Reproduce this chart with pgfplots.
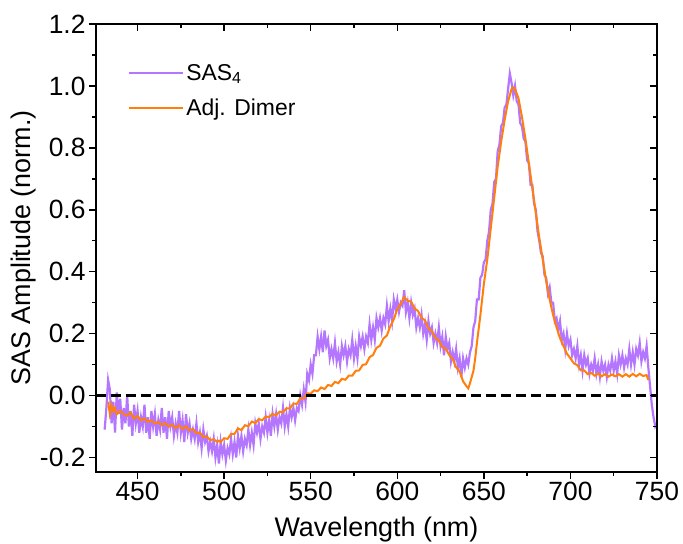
\documentclass[border=0pt]{standalone}
\usepackage{pgfplots}
\pgfplotsset{compat=1.18}
\usepackage{fontspec}
\setmainfont{Liberation Sans}
\definecolor{sas}{RGB}{181,118,255}
\definecolor{dimer}{RGB}{255,127,10}
\begin{document}
\begin{tikzpicture}
\useasboundingbox (-96bp,-72bp) rectangle (587bp,472bp);
\begin{axis}[
  at={(0,0)}, anchor=south west,
  scale only axis, width=561bp, height=448bp,
  xmin=426, xmax=750, ymin=-0.247, ymax=1.2,
  xtick={450,500,550,600,650,700,750},
  ytick={-0.2,0,0.2,0.4,0.6,0.8,1.0,1.2},
  minor x tick num=1, minor y tick num=1,
  tick align=outside, xtick pos=left, ytick pos=left,
  major tick length=7bp, minor tick length=4bp,
  axis line style={line width=1.5bp},
  every tick/.style={line width=1.5bp, black},
  /pgf/number format/assume math mode=true,
  tick label style={font=\fontsize{26.5}{30}\selectfont},
  yticklabel style={/pgf/number format/fixed, /pgf/number format/fixed zerofill, /pgf/number format/precision=1},
  xticklabel style={/pgf/number format/fixed, /pgf/number format/1000 sep={}},
  xlabel={Wavelength (nm)},
  ylabel={SAS Amplitude (norm.)},
  every axis x label/.style={at={(axis description cs:0.5,-0.145)}, anchor=base, font=\fontsize{27}{31}\selectfont},
  every axis y label/.style={at={(axis description cs:-0.13,0.5)}, anchor=center, rotate=90, font=\fontsize{27}{31}\selectfont},
  legend style={at={(axis description cs:0.057,0.915)}, anchor=north west, draw=none, fill=none,
    font=\fontsize{23}{27}\selectfont, row sep=13bp, inner sep=0pt},
  legend image code/.code={\draw[#1] (0bp,0bp) -- (54bp,0bp);},
  legend cell align=left,
]
\addplot[sas, line width=2.2bp] coordinates {
(431,-0.11) (432,-0.04) (433,0.05) (434,0.02) (435,-0.09) (436,-0.02) (437,-0.12) (438,0.01) (439,-0.06) (440,-0.01)
(441,-0.11) (442,-0.04) (443,-0.09) (444,0.0) (445,-0.10) (446,-0.05) (447,-0.13) (448,-0.03) (449,-0.09) (450,-0.05)
(451,-0.12) (452,-0.07) (453,-0.10) (454,-0.03) (455,-0.12) (456,-0.07) (457,-0.14) (458,-0.05) (459,-0.10) (460,-0.06)
(461,-0.13) (462,-0.08) (463,-0.11) (464,-0.04) (465,-0.12) (466,-0.07) (467,-0.14) (468,-0.05) (469,-0.10) (470,-0.07)
(471,-0.13) (472,-0.09) (473,-0.12) (474,-0.05) (475,-0.12) (476,-0.08) (477,-0.15) (478,-0.06) (479,-0.12) (480,-0.09)
(481,-0.14) (482,-0.11) (483,-0.14) (484,-0.09) (485,-0.15) (486,-0.12) (487,-0.17) (488,-0.11) (489,-0.15) (490,-0.13)
(491,-0.18) (492,-0.15) (493,-0.18) (494,-0.14) (495,-0.20) (496,-0.16) (497,-0.22) (498,-0.15) (499,-0.19) (500,-0.16)
(501,-0.21) (502,-0.17) (503,-0.19) (504,-0.14) (505,-0.19) (506,-0.15) (507,-0.20) (508,-0.13) (509,-0.17) (510,-0.13)
(511,-0.18) (512,-0.14) (513,-0.16) (514,-0.11) (515,-0.16) (516,-0.12) (517,-0.16) (518,-0.09) (519,-0.12) (520,-0.09)
(521,-0.14) (522,-0.10) (523,-0.12) (524,-0.07) (525,-0.12) (526,-0.08) (527,-0.13) (528,-0.06) (529,-0.10) (530,-0.06)
(531,-0.11) (532,-0.07) (533,-0.09) (534,-0.04) (535,-0.10) (536,-0.06) (537,-0.10) (538,-0.04) (539,-0.07) (540,-0.04)
(541,-0.08) (542,-0.04) (543,-0.05) (544,0.0) (545,-0.03) (546,0.02) (547,-0.02) (548,0.07) (549,0.05) (550,0.10)
(551,0.07) (552,0.13) (553,0.13) (554,0.19) (555,0.15) (556,0.19) (557,0.14) (558,0.21) (559,0.16) (560,0.18)
(561,0.12) (562,0.15) (563,0.12) (564,0.17) (565,0.11) (566,0.14) (567,0.10) (568,0.16) (569,0.13) (570,0.16)
(571,0.11) (572,0.15) (573,0.13) (574,0.18) (575,0.12) (576,0.16) (577,0.12) (578,0.19) (579,0.16) (580,0.19)
(581,0.15) (582,0.19) (583,0.17) (584,0.23) (585,0.18) (586,0.22) (587,0.18) (588,0.25) (589,0.22) (590,0.25)
(591,0.21) (592,0.25) (593,0.23) (594,0.29) (595,0.24) (596,0.28) (597,0.24) (598,0.31) (599,0.28) (600,0.31)
(601,0.27) (602,0.30) (603,0.29) (604,0.34) (605,0.27) (606,0.30) (607,0.25) (608,0.30) (609,0.26) (610,0.28)
(611,0.22) (612,0.25) (613,0.22) (614,0.26) (615,0.20) (616,0.23) (617,0.18) (618,0.24) (619,0.20) (620,0.22)
(621,0.17) (622,0.20) (623,0.17) (624,0.22) (625,0.16) (626,0.19) (627,0.13) (628,0.19) (629,0.15) (630,0.17)
(631,0.11) (632,0.14) (633,0.11) (634,0.15) (635,0.09) (636,0.12) (637,0.06) (638,0.12) (639,0.09) (640,0.12)
(641,0.10) (642,0.14) (643,0.16) (644,0.22) (645,0.24) (646,0.31) (647,0.31) (648,0.38) (649,0.39) (650,0.43)
(651,0.44) (652,0.50) (653,0.53) (654,0.60) (655,0.62) (656,0.69) (657,0.70) (658,0.79) (659,0.81) (660,0.87)
(661,0.88) (662,0.93) (663,0.94) (664,0.99) (665,1.04) (666,1.01) (667,0.97) (668,1.00) (669,0.95) (670,0.94)
(671,0.88) (672,0.87) (673,0.83) (674,0.82) (675,0.76) (676,0.75) (677,0.68) (678,0.68) (679,0.62) (680,0.60)
(681,0.53) (682,0.50) (683,0.46) (684,0.45) (685,0.39) (686,0.38) (687,0.33) (688,0.35) (689,0.30) (690,0.30)
(691,0.24) (692,0.25) (693,0.21) (694,0.24) (695,0.18) (696,0.20) (697,0.15) (698,0.20) (699,0.16) (700,0.18)
(701,0.13) (702,0.15) (703,0.12) (704,0.16) (705,0.10) (706,0.13) (707,0.08) (708,0.13) (709,0.10) (710,0.12)
(711,0.07) (712,0.10) (713,0.08) (714,0.12) (715,0.07) (716,0.10) (717,0.06) (718,0.11) (719,0.08) (720,0.10)
(721,0.06) (722,0.10) (723,0.08) (724,0.12) (725,0.08) (726,0.11) (727,0.07) (728,0.13) (729,0.10) (730,0.13)
(731,0.09) (732,0.12) (733,0.10) (734,0.15) (735,0.10) (736,0.14) (737,0.10) (738,0.15) (739,0.13) (740,0.17)
(741,0.11) (742,0.14) (743,0.12) (744,0.16) (745,0.09) (746,0.03) (747,-0.03) (748,-0.07) (749,-0.10) (750,-0.09)
};
\addlegendentry{SAS\textsubscript{4}}
\addplot[dimer, line width=2bp] coordinates {
(433,-0.02) (434,-0.06) (435,-0.03) (436,-0.05) (437,-0.04) (438,-0.06) (440,-0.05) (442,-0.06) (444,-0.065) (446,-0.055)
(448,-0.075) (450,-0.066) (452,-0.08) (454,-0.074) (456,-0.085) (458,-0.08) (460,-0.09) (462,-0.086) (464,-0.095) (466,-0.089)
(468,-0.1) (470,-0.094) (472,-0.105) (474,-0.096) (476,-0.108) (478,-0.1) (480,-0.112) (482,-0.108) (484,-0.122) (486,-0.12)
(488,-0.134) (490,-0.132) (492,-0.144) (494,-0.141) (496,-0.15) (497,-0.146) (498,-0.15) (500,-0.138) (502,-0.14) (504,-0.124)
(506,-0.124) (508,-0.106) (510,-0.112) (512,-0.096) (514,-0.099) (516,-0.084) (518,-0.089) (520,-0.076) (522,-0.08) (524,-0.068)
(526,-0.07) (528,-0.059) (530,-0.064) (532,-0.052) (534,-0.054) (536,-0.041) (538,-0.042) (540,-0.026) (542,-0.027) (544,-0.009)
(546,-0.009) (548,0.007) (550,0.006) (552,0.017) (554,0.014) (556,0.026) (558,0.021) (560,0.034) (562,0.031) (564,0.044)
(566,0.04) (568,0.054) (570,0.051) (572,0.064) (574,0.064) (576,0.08) (578,0.081) (580,0.099) (582,0.101) (584,0.124)
(586,0.131) (588,0.154) (590,0.161) (592,0.184) (594,0.194) (596,0.224) (598,0.246) (600,0.279) (602,0.296) (604,0.318)
(606,0.306) (608,0.303) (610,0.281) (612,0.273) (614,0.251) (616,0.243) (618,0.216) (620,0.208) (622,0.186) (624,0.178)
(626,0.156) (628,0.151) (630,0.131) (632,0.118) (634,0.091) (636,0.078) (638,0.046) (640,0.03) (641,0.023) (642,0.04)
(644,0.08) (645,0.12) (646,0.17) (648,0.26) (650,0.36) (652,0.44) (654,0.54) (656,0.64) (658,0.74) (660,0.82)
(662,0.89) (664,0.95) (666,0.99) (667,0.995) (668,0.99) (670,0.96) (672,0.90) (674,0.83) (676,0.75) (678,0.67)
(680,0.59) (682,0.51) (684,0.44) (686,0.37) (688,0.31) (690,0.26) (692,0.22) (694,0.185) (696,0.16) (698,0.135)
(700,0.12) (702,0.104) (704,0.098) (706,0.081) (708,0.081) (710,0.069) (712,0.073) (714,0.064) (716,0.071) (718,0.062)
(720,0.069) (722,0.061) (724,0.068) (726,0.062) (728,0.069) (730,0.061) (732,0.069) (734,0.061) (736,0.07) (738,0.062)
(740,0.07) (742,0.063) (744,0.066) (745,0.05)
};
\addlegendentry{Adj. Dimer}
\addplot[black, line width=3.5bp, dash pattern=on 10bp off 5bp, forget plot] coordinates {(426,0) (750,0)};
\end{axis}
\begin{axis}[
  at={(0,0)}, anchor=south west,
  scale only axis, width=561bp, height=448bp,
  xmin=426, xmax=750, ymin=-0.247, ymax=1.2,
  xtick={450,500,550,600,650,700,750},
  ytick={-0.2,0,0.2,0.4,0.6,0.8,1.0,1.2},
  minor x tick num=1, minor y tick num=1,
  tick align=inside, xtick pos=right, ytick pos=right,
  major tick length=7bp, minor tick length=4bp,
  axis line style={line width=1.5bp},
  every tick/.style={line width=1.5bp, black},
  xticklabels={}, yticklabels={},
]
\end{axis}
\end{tikzpicture}
\end{document}
